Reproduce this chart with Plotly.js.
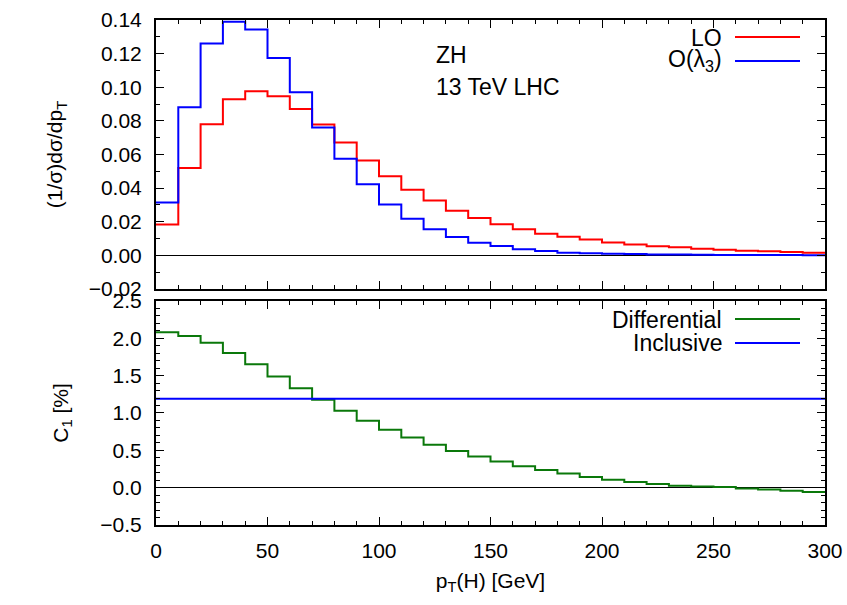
<!DOCTYPE html>
<html>
<head>
<meta charset="utf-8">
<script src="https://cdn.plot.ly/plotly-3.0.1.min.js"></script>
<style>html,body{margin:0;padding:0;background:#fff;}#chart{width:847px;height:605px;}</style>
</head>
<body>
<div id="chart"></div>
<script>
// Bin edges in pT(H) [GeV]
const binEdges = [0,10,20,30,40,50,60,70,80,90,100,110,120,130,140,150,160,170,180,190,200,210,220,230,240,250,260,270,280,290,300];
// Normalised distributions (1/sigma) dsigma/dpT, one value per bin
const loValues = [0.0183,0.0520,0.0780,0.0929,0.0976,0.0946,0.0871,0.0778,0.0671,0.0564,0.0470,0.0391,0.0326,0.0266,0.0222,0.0185,0.0155,0.0129,0.0111,0.0095,0.0077,0.0065,0.0055,0.0048,0.0040,0.0034,0.0028,0.0024,0.0020,0.0016];
const l3Values = [0.0314,0.0881,0.1260,0.1390,0.1343,0.1174,0.0970,0.0760,0.0575,0.0423,0.0302,0.0218,0.0155,0.0109,0.0075,0.0056,0.0036,0.0026,0.0016,0.0012,0.0010,0.0008,0.0006,0.0005,0.0004,0.0003,0.0003,0.0002,0.0002,0.0001];
// C1 [%]
const c1Differential = [2.08,2.03,1.94,1.805,1.653,1.488,1.33,1.178,1.03,0.896,0.775,0.672,0.573,0.492,0.417,0.35,0.286,0.237,0.188,0.143,0.107,0.075,0.048,0.027,0.017,0.008,-0.010,-0.023,-0.040,-0.058];
const c1Inclusive = 1.19;
const xRange = [0, 300];

function stepY(vals){ return vals.concat([vals[vals.length-1]]); }

const F = 'Liberation Sans, Arial, Helvetica, sans-serif';

const traces = [
  {x: binEdges, y: stepY(loValues), mode:'lines', line:{shape:'hv', color:'#ff0000', width:2}, xaxis:'x', yaxis:'y', name:'LO'},
  {x: binEdges, y: stepY(l3Values), mode:'lines', line:{shape:'hv', color:'#0000ff', width:2}, xaxis:'x', yaxis:'y', name:'O(λ3)'},
  {x: binEdges, y: stepY(c1Differential), mode:'lines', line:{shape:'hv', color:'#0a780a', width:2}, xaxis:'x2', yaxis:'y2', name:'Differential'},
  {x: xRange, y: [c1Inclusive, c1Inclusive], mode:'lines', line:{color:'#0000ff', width:2}, xaxis:'x2', yaxis:'y2', name:'Inclusive'}
];

const axBase = {
  showline:true, linecolor:'#000', linewidth:2, mirror:'ticks',
  ticks:'inside', ticklen:8, tickwidth:1, tickcolor:'#000',
  showgrid:false, zeroline:true, zerolinecolor:'#000', zerolinewidth:1,
  tickfont:{family:F, size:21, color:'#000'}
};

const layout = {
  width:847, height:605,
  margin:{l:156, r:22, t:20, b:80},
  paper_bgcolor:'#fff', plot_bgcolor:'#fff',
  showlegend:false,
  font:{family:F, color:'#000'},
  xaxis: Object.assign({}, axBase, {
    domain:[0,1], anchor:'y', range:xRange, dtick:50, showticklabels:false, zeroline:false,
    minor:{ticks:'inside', dtick:10, ticklen:4, tickcolor:'#000'}
  }),
  yaxis: Object.assign({}, axBase, {
    domain:[0.4673,1], anchor:'x', range:[-0.02,0.14], dtick:0.02, tick0:0, tickformat:'.2f',
    minor:{ticks:'inside', dtick:0.01, ticklen:4, tickcolor:'#000'},
    ticklabelstandoff:8,
    title:{text:'(1/σ)dσ/dp<sub>T</sub>', font:{family:F, size:21}, standoff:20}
  }),
  xaxis2: Object.assign({}, axBase, {
    domain:[0,1], anchor:'y2', range:xRange, dtick:50, zeroline:false,
    minor:{ticks:'inside', dtick:10, ticklen:4, tickcolor:'#000'},
    ticklabelstandoff:6,
    title:{text:'p<sub>T</sub>(H) [GeV]', font:{family:F, size:21}, standoff:12}
  }),
  yaxis2: Object.assign({}, axBase, {
    domain:[0,0.4436], anchor:'x2', range:[-0.5,2.5], dtick:0.5, tick0:0, tickformat:'.1f',
    minor:{ticks:'inside', dtick:0.1, ticklen:4, tickcolor:'#000'},
    ticklabelstandoff:8,
    title:{text:'C<sub>1</sub> [%]', font:{family:F, size:21}, standoff:26}
  }),
  annotations:[
    {xref:'paper', yref:'paper', x:(434-156)/669, y:(525-55)/505, xanchor:'left', yanchor:'middle', text:'ZH', showarrow:false, font:{family:F, size:23}},
    {xref:'paper', yref:'paper', x:(434-156)/669, y:(525-87)/505, xanchor:'left', yanchor:'middle', text:'13 TeV LHC', showarrow:false, font:{family:F, size:23}},
    {xref:'paper', yref:'paper', x:(724-156)/669, y:(525-38)/505, xanchor:'right', yanchor:'middle', text:'LO', showarrow:false, font:{family:F, size:23}},
    {xref:'paper', yref:'paper', x:(724-156)/669, y:(525-61)/505, xanchor:'right', yanchor:'middle', text:'O(λ<sub>3</sub>)', showarrow:false, font:{family:F, size:23}},
    {xref:'paper', yref:'paper', x:(724-156)/669, y:(525-320)/505, xanchor:'right', yanchor:'middle', text:'Differential', showarrow:false, font:{family:F, size:23}},
    {xref:'paper', yref:'paper', x:(724-156)/669, y:(525-343)/505, xanchor:'right', yanchor:'middle', text:'Inclusive', showarrow:false, font:{family:F, size:23}}
  ],
  shapes:[
    {type:'line', xref:'paper', yref:'paper', x0:(735-156)/669, x1:(800-156)/669, y0:(525-37)/505, y1:(525-37)/505, line:{color:'#ff0000', width:2}},
    {type:'line', xref:'paper', yref:'paper', x0:(735-156)/669, x1:(800-156)/669, y0:(525-61)/505, y1:(525-61)/505, line:{color:'#0000ff', width:2}},
    {type:'line', xref:'paper', yref:'paper', x0:(735-156)/669, x1:(800-156)/669, y0:(525-319)/505, y1:(525-319)/505, line:{color:'#0a780a', width:2}},
    {type:'line', xref:'paper', yref:'paper', x0:(735-156)/669, x1:(800-156)/669, y0:(525-343)/505, y1:(525-343)/505, line:{color:'#0000ff', width:2}}
  ]
};

Plotly.newPlot('chart', traces, layout, {displayModeBar:false, staticPlot:true});
</script>
</body>
</html>
